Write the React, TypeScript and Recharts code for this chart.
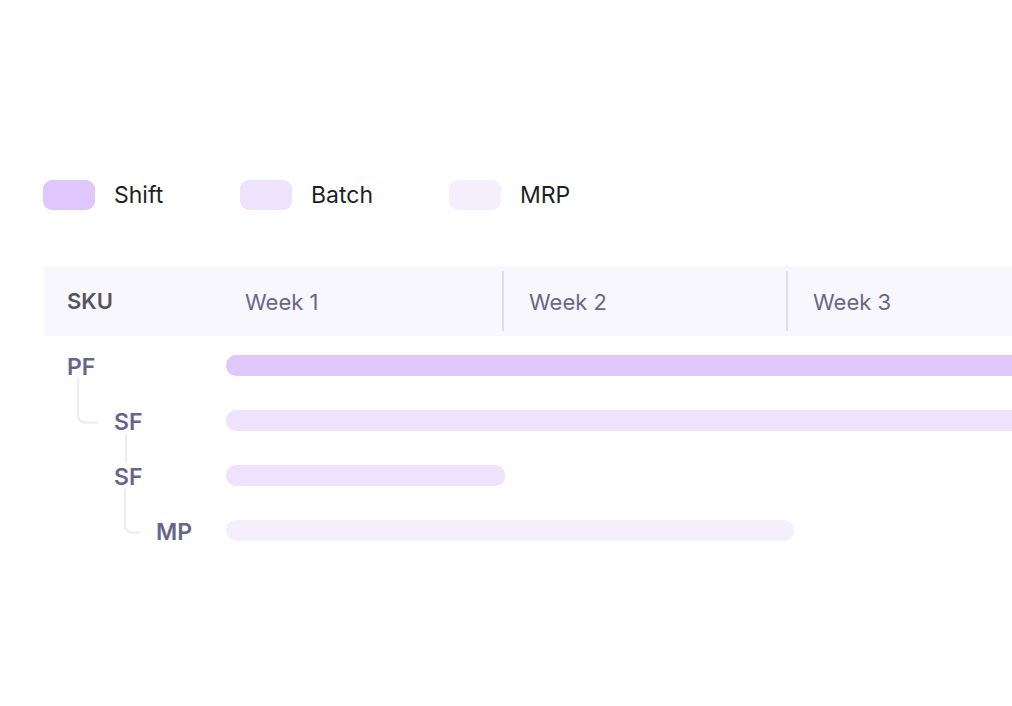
import { Bar, BarChart, Cell, XAxis, YAxis } from "recharts";

// rows of the plan, top to bottom
const skus = ["PF", "SF", "SF", "MP"];
const levels = [0, 1, 1, 2];
const links = ["", "elbow", "line", "elbow"];
const kinds = ["Shift", "Batch", "Batch", "MRP"];
const startDays = [0.15, 0.15, 0.15, 0.15];
const endDays = [21, 21, 7.03, 14.16];

const weekTicks = [0, 7, 14];
const weekLabels = ["Week 1", "Week 2", "Week 3"];

const legendNames = ["Shift", "Batch", "MRP"];
const kindColors: Record<string, string> = {
  Shift: "#dfc6fb",
  Batch: "#efe2fc",
  MRP: "#f5effd"
};

const rows = skus.map((sku, i) => ({
  key: `r${i}`,
  sku,
  level: levels[i],
  link: links[i],
  kind: kinds[i],
  start: startDays[i],
  span: endDays[i] - startDays[i]
}));

const FONT = "Inter, 'Noto Sans', sans-serif";
const ROW_H = 55;
const LABEL_X = [67, 114, 156];
const LEGEND_X = [43, 240, 449];

function WeekTick({ x, y, payload }: any) {
  const i = weekTicks.indexOf(payload.value);
  return (
    <g>
      {i > 0 && (
        <line x1={x - 1} x2={x - 1} y1={y - 67} y2={y - 7} stroke="#dcdcf2" strokeWidth={2} />
      )}
      <text
        x={x + 25}
        y={y - 36}
        dominantBaseline="central"
        fill="#68678a"
        fontSize={22}
        fontFamily={FONT}
      >
        {weekLabels[i]}
      </text>
    </g>
  );
}

function SkuTick({ y, payload }: any) {
  const i = rows.findIndex((r) => r.key === payload.value);
  const row = rows[i];
  const lx = LABEL_X[row.level];
  let link = null;
  if (row.link === "elbow") {
    const px = LABEL_X[rows[i - 1].level] + 11;
    const top = y - ROW_H + 13;
    const ly = y + 2;
    link = (
      <path
        d={`M${px},${top} L${px},${ly - 8} Q${px},${ly} ${px + 8},${ly} L${lx - 16},${ly}`}
        fill="none"
        stroke="#efe7fc"
        strokeWidth={2}
      />
    );
  } else if (row.link === "line") {
    const px = lx + 12;
    link = (
      <line x1={px} x2={px} y1={y - ROW_H + 14} y2={y - 14} stroke="#efe7fc" strokeWidth={2} />
    );
  }
  return (
    <g>
      {link}
      <text
        x={lx}
        y={y + 1}
        dominantBaseline="central"
        fill="#67658a"
        fontSize={23}
        fontWeight={600}
        fontFamily={FONT}
      >
        {row.sku}
      </text>
    </g>
  );
}

function Legend() {
  return (
    <div style={{ position: "absolute", top: 180, left: 0, fontFamily: FONT }}>
      {legendNames.map((name, i) => (
        <div
          key={name}
          style={{ position: "absolute", left: LEGEND_X[i], top: 0, display: "flex", alignItems: "center" }}
        >
          <div
            style={{
              width: 52,
              height: 30,
              borderRadius: 9,
              background: kindColors[name],
              marginRight: 19
            }}
          />
          <span style={{ fontSize: 23, color: "#1f1f26", whiteSpace: "nowrap" }}>{name}</span>
        </div>
      ))}
    </div>
  );
}

export default function App() {
  return (
    <div
      style={{
        position: "absolute",
        left: 0,
        top: 0,
        width: 1012,
        height: 706,
        overflow: "hidden",
        background: "#ffffff",
        fontFamily: FONT
      }}
    >
      <Legend />
      <div
        style={{
          position: "absolute",
          left: 44,
          top: 266,
          width: 1000,
          height: 70,
          background: "#f8f7fd"
        }}
      />
      <div
        style={{
          position: "absolute",
          left: 67,
          top: 266,
          height: 70,
          lineHeight: "70px",
          fontSize: 22,
          fontWeight: 600,
          color: "#55555f"
        }}
      >
        SKU
      </div>
      <div style={{ position: "absolute", left: 0, top: 0 }}>
        <BarChart
          layout="vertical"
          width={1080}
          height={706}
          data={rows}
          barSize={21}
          margin={{ top: 266, right: 8, bottom: 706 - 338 - ROW_H * rows.length, left: 0 }}
        >
          <XAxis
            type="number"
            orientation="top"
            domain={[0, 21]}
            ticks={weekTicks}
            height={72}
            axisLine={false}
            tickLine={false}
            tickSize={0}
            tickMargin={0}
            tick={<WeekTick />}
            allowDataOverflow
          />
          <YAxis
            type="category"
            dataKey="key"
            width={220}
            axisLine={false}
            tickLine={false}
            tick={<SkuTick />}
          />
          <Bar dataKey="start" stackId="plan" fill="transparent" isAnimationActive={false} />
          <Bar dataKey="span" stackId="plan" radius={10} isAnimationActive={false}>
            {rows.map((r) => (
              <Cell key={r.key} fill={kindColors[r.kind]} />
            ))}
          </Bar>
        </BarChart>
      </div>
    </div>
  );
}
